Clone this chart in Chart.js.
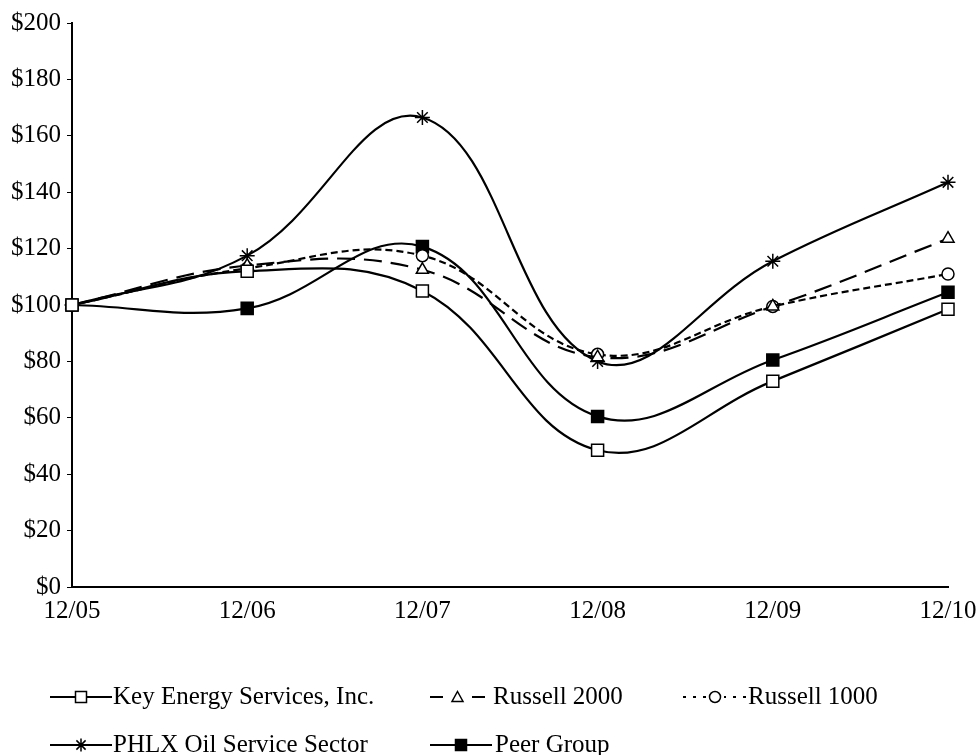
<!DOCTYPE html>
<html>
<head>
<meta charset="utf-8">
<script src="https://cdn.jsdelivr.net/npm/chart.js@4.4.1/dist/chart.umd.min.js"></script>
<style>
  body { margin: 0; background: #fff; }
  #wrap { width: 977px; height: 755px; }
</style>
</head>
<body>
<div id="wrap"><canvas id="myChart" width="977" height="755"></canvas></div>
<script>
var years = ['12/05', '12/06', '12/07', '12/08', '12/09', '12/10'];
var keyEnergy = [100, 112, 105, 48.5, 73, 98.5];
var russell2000 = [100, 114, 112.5, 81.5, 99.5, 123.5];
var russell1000 = [100, 113, 117.5, 82.5, 99.5, 111];
var phlx = [100, 117.5, 166.5, 80, 115.5, 143.5];
var peerGroup = [100, 98.8, 120.7, 60.5, 80.5, 104.5];
var yTicks = [0, 20, 40, 60, 80, 100, 120, 140, 160, 180, 200];

var serif = 'Liberation Serif';

// legend slots: sample start/end, text start, row
var legendSlots = [
  { x0: 50, x1: 112, tx: 113, y: 697 },
  { x0: 430, x1: 485, tx: 493, y: 697 },
  { x0: 683, x1: 747, tx: 748, y: 697 },
  { x0: 50, x1: 112, tx: 113, y: 745 },
  { x0: 430, x1: 492, tx: 495, y: 745 }
];

function marker(ctx, style, x, y, r, filled) {
  ctx.save();
  ctx.setLineDash([]);
  ctx.lineWidth = 1.5;
  ctx.strokeStyle = '#000';
  ctx.fillStyle = filled ? '#000' : '#fff';
  ctx.beginPath();
  if (style === 'rect') {
    ctx.rect(x - r, y - r, 2 * r, 2 * r);
    ctx.fill(); ctx.stroke();
  } else if (style === 'triangle') {
    ctx.moveTo(x, y - r);
    ctx.lineTo(x + r, y + r * 0.8);
    ctx.lineTo(x - r, y + r * 0.8);
    ctx.closePath();
    ctx.fill(); ctx.stroke();
  } else if (style === 'circle') {
    ctx.arc(x, y, r, 0, Math.PI * 2);
    ctx.fill(); ctx.stroke();
  } else if (style === 'star') {
    for (var i = 0; i < 4; i++) {
      var a = i * Math.PI / 4;
      ctx.moveTo(x - r * Math.cos(a), y - r * Math.sin(a));
      ctx.lineTo(x + r * Math.cos(a), y + r * Math.sin(a));
    }
    ctx.stroke();
  }
  ctx.restore();
}

var legendPlugin = {
  id: 'bottomLegend',
  afterDraw: function(chart) {
    var ctx = chart.ctx;
    chart.data.datasets.forEach(function(ds, i) {
      var s = legendSlots[i];
      ctx.save();
      ctx.strokeStyle = '#000';
      ctx.lineWidth = 2;
      ctx.setLineDash(ds.legendDash || []);
      ctx.beginPath();
      ctx.moveTo(s.x0, s.y);
      ctx.lineTo(s.x1, s.y);
      ctx.stroke();
      ctx.restore();
      var mx = (s.x0 + s.x1) / 2;
      if (ds.legendDash && ds.legendDash.length) {
        ctx.save();
        ctx.fillStyle = '#fff';
        ctx.fillRect(mx - 9, s.y - 8, 18, 16);
        ctx.restore();
      }
      marker(ctx, ds.pointStyle, mx, s.y, ds.pointStyle === 'star' ? 6.5 : 5.5, ds.pointBackgroundColor === '#000');
      ctx.save();
      ctx.fillStyle = '#000';
      ctx.font = '25px "' + serif + '"';
      ctx.textBaseline = 'middle';
      ctx.fillText(ds.label, s.tx, s.y);
      ctx.restore();
    });
  }
};

var common = {
  fill: false,
  borderColor: '#000',
  borderWidth: 2.2,
  pointBorderColor: '#000',
  pointBorderWidth: 1.5,
  tension: 0.4
};

var ctx = document.getElementById('myChart').getContext('2d');
var myChart = new Chart(ctx, {
  type: 'line',
  data: {
    labels: years,
    datasets: [
      Object.assign({}, common, {
        label: 'Key Energy Services, Inc.',
        data: keyEnergy,
        pointStyle: 'rect',
        pointRadius: 8.5,
        pointBackgroundColor: '#fff'
      }),
      Object.assign({}, common, {
        label: 'Russell 2000',
        data: russell2000,
        borderDash: [18, 9],
        legendDash: [13, 8],
        pointStyle: 'triangle',
        pointRadius: 7,
        pointBackgroundColor: '#fff'
      }),
      Object.assign({}, common, {
        label: 'Russell 1000',
        data: russell1000,
        borderDash: [7, 4],
        legendDash: [3, 7],
        pointStyle: 'circle',
        pointRadius: 6,
        pointBackgroundColor: '#fff'
      }),
      Object.assign({}, common, {
        label: 'PHLX Oil Service Sector',
        data: phlx,
        pointStyle: 'star',
        pointRadius: 7.5,
        pointBackgroundColor: '#fff'
      }),
      Object.assign({}, common, {
        label: 'Peer Group',
        data: peerGroup,
        pointStyle: 'rect',
        pointRadius: 8.5,
        pointBackgroundColor: '#000'
      })
    ]
  },
  options: {
    responsive: false,
    animation: false,
    layout: { padding: { top: 23, right: 29, bottom: 128, left: 0 } },
    plugins: {
      legend: { display: false },
      tooltip: { enabled: false }
    },
    scales: {
      x: {
        offset: false,
        grid: { display: false, drawTicks: false },
        border: { display: true, color: '#000', width: 2 },
        ticks: {
          color: '#000',
          font: { family: serif, size: 25 },
          padding: 9,
          maxRotation: 0,
          autoSkip: false
        },
        afterFit: function(s) {
          s.height = 40;
          s.paddingLeft = 0;
          s.paddingRight = 0;
        }
      },
      y: {
        min: 0,
        max: 200,
        afterBuildTicks: function(s) {
          s.ticks = yTicks.map(function(v) { return { value: v }; });
        },
        grid: { drawOnChartArea: false, drawTicks: true, tickLength: 5, color: '#000' },
        border: { display: true, color: '#000', width: 2 },
        ticks: {
          color: '#000',
          font: { family: serif, size: 25 },
          padding: 6,
          callback: function(v) { return '$' + v; }
        },
        afterFit: function(s) {
          s.width = 72;
          s.paddingTop = 0;
          s.paddingBottom = 0;
        }
      }
    }
  },
  plugins: [legendPlugin]
});
</script>
</body>
</html>
